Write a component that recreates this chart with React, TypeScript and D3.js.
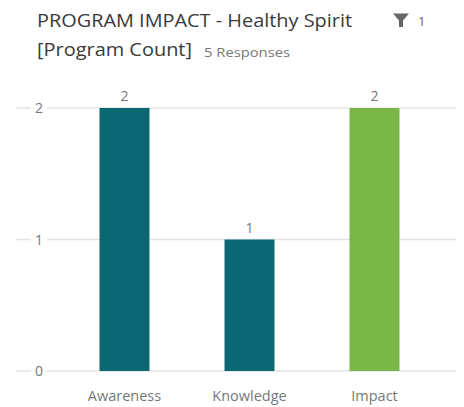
import React from "react";
import * as d3 from "d3";

const categories: string[] = ["Awareness", "Knowledge", "Impact"];
const values: number[] = [2, 1, 2];
const barColors: string[] = ["#0b6872", "#0b6872", "#7ab648"];
const yTicks: number[] = [0, 1, 2];
const titleLine1 = "PROGRAM IMPACT - Healthy Spirit";
const titleLine2 = "[Program Count]";
const responsesText = "5 Responses";
const filterCount = "1";

const W = 464;
const H = 407;
const FONT = "'Open Sans', sans-serif";

export default function App() {
  const x = d3
    .scaleBand<string>()
    .domain(categories)
    .range([62, 437])
    .paddingInner(0.6)
    .paddingOuter(0.3);
  const y = d3.scaleLinear().domain([0, 2]).range([371, 108]);

  return (
    <svg
      width={W}
      height={H}
      style={{ position: "absolute", left: 0, top: 0, background: "#fff" }}
      fontFamily={FONT}
    >
      {/* Title */}
      <text x={37} y={27} fontSize={19} fill="#3a3a3a" textLength={315} lengthAdjust="spacingAndGlyphs">
        {titleLine1}
      </text>
      <text x={37} y={56} fontSize={19} fill="#3a3a3a" textLength={155} lengthAdjust="spacingAndGlyphs">
        {titleLine2}
      </text>
      <text x={204} y={57} fontSize={13} fill="#777" textLength={86} lengthAdjust="spacingAndGlyphs">
        {responsesText}
      </text>
      {/* Filter icon */}
      <path d="M393,13.5 L409,13.5 L403,20.5 L403,27 L399,27 L399,20.5 Z" fill="#666" />
      <text x={418} y={25.5} fontSize={13} fill="#666">
        {filterCount}
      </text>

      {/* Grid lines and y ticks */}
      {yTicks.map((t) => (
        <g key={t}>
          <line x1={16} x2={31} y1={y(t)} y2={y(t)} stroke="#e4e4e4" strokeWidth={1.5} />
          <line x1={47} x2={456} y1={y(t)} y2={y(t)} stroke="#e4e4e4" strokeWidth={1.5} />
          <text x={39} y={y(t) + 5} fontSize={14} fill="#777" textAnchor="middle">
            {t}
          </text>
        </g>
      ))}

      {/* Bars */}
      {categories.map((c, i) => (
        <g key={c}>
          <rect
            x={x(c)}
            y={y(values[i])}
            width={x.bandwidth()}
            height={y(0) - y(values[i])}
            fill={barColors[i]}
          />
          <text
            x={(x(c) as number) + x.bandwidth() / 2}
            y={y(values[i]) - 7}
            fontSize={14}
            fill="#777"
            textAnchor="middle"
          >
            {values[i]}
          </text>
          <text
            x={(x(c) as number) + x.bandwidth() / 2}
            y={401}
            fontSize={14.5}
            fill="#777"
            textAnchor="middle"
          >
            {c}
          </text>
        </g>
      ))}
    </svg>
  );
}
